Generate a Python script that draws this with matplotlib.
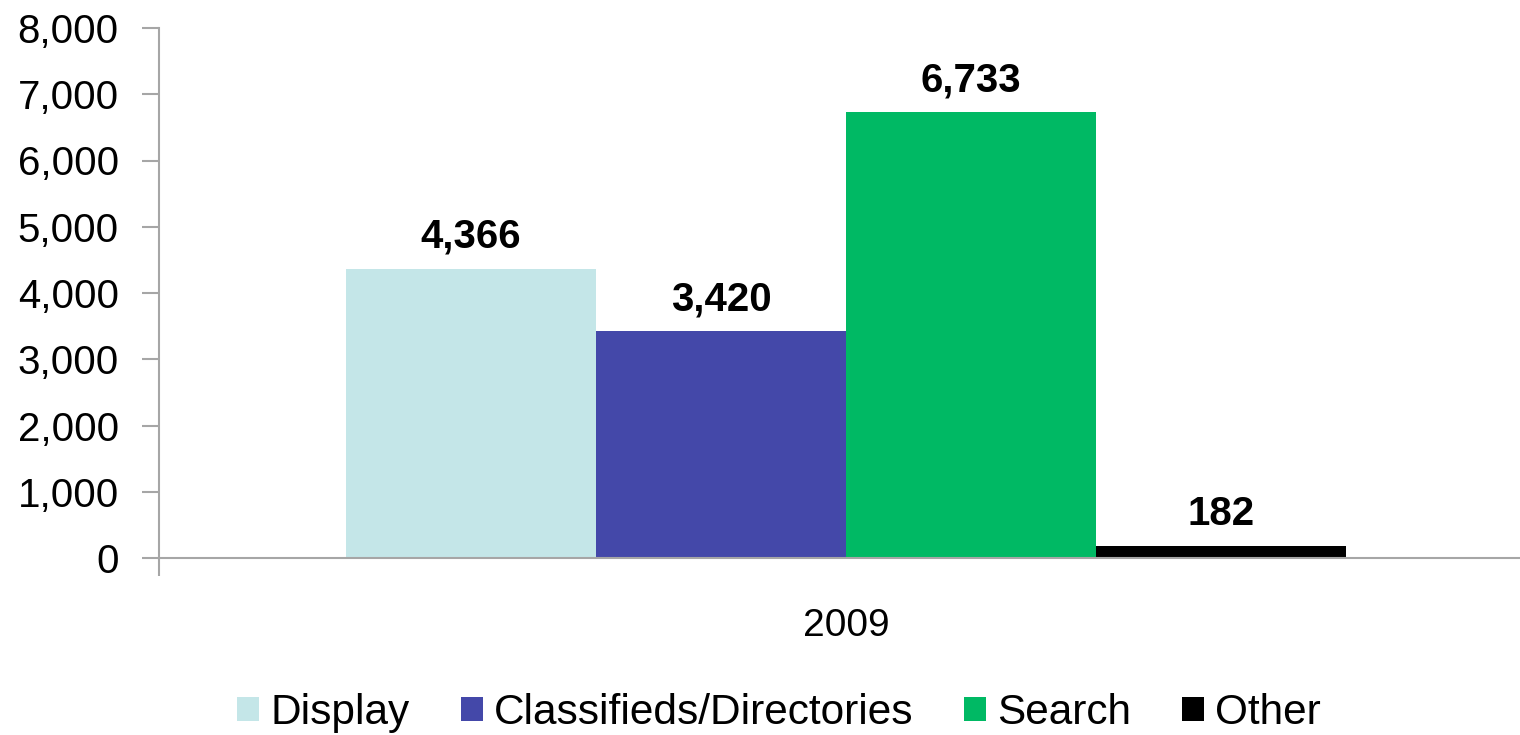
import matplotlib
matplotlib.use("Agg")
import matplotlib.pyplot as plt
import numpy as np

categories = ["2009"]
series = ["Display", "Classifieds/Directories", "Search", "Other"]
values = [4366, 3420, 6733, 182]
colors = ["#C4E6E8", "#4448A9", "#00B964", "#000000"]

plt.rcParams['font.family'] = ['Liberation Sans', 'DejaVu Sans']

fig = plt.figure(figsize=(15.2, 7.35), dpi=100)
ax = fig.add_axes([159 / 1520, 177 / 735, 1374 / 1520, 530 / 735])

width = 0.25
half = 1374 / 1000 / 2
offsets = (np.arange(len(series)) - (len(series) - 1) / 2) * width
for off, name, val, col in zip(offsets, series, values, colors):
    ax.bar(off, val, width, color=col, label=name)
    ax.annotate(f"{val:,}", (off, val), xytext=(0, 15), textcoords="offset points",
                ha="center", va="baseline", fontsize=29, fontweight="bold")

ax.set_xlim(-half, half)
ax.set_ylim(0, 8000)
ax.set_yticks(np.arange(0, 8001, 1000))
ax.set_yticklabels([f"{v:,}" for v in range(0, 8001, 1000)])
ax.set_xticks([0])
ax.set_xticklabels(categories)
ax.set_xticks([-half, half], minor=True)
ax.tick_params(axis="x", which="major", length=0, labelsize=28, pad=36)
ax.tick_params(axis="x", which="minor", length=13, color="#A6A6A6", width=1.5)
ax.tick_params(axis="y", length=12, color="#A6A6A6", width=1.5, labelsize=29, pad=17)

for s in ["top", "right"]:
    ax.spines[s].set_visible(False)
for s in ["left", "bottom"]:
    ax.spines[s].set_color("#A6A6A6")
    ax.spines[s].set_linewidth(1.5)

fig.legend(loc="center", bbox_to_anchor=(779 / 1520, 1 - 713 / 735), ncol=4,
           frameon=False, fontsize=30.5, handlelength=0.52, handleheight=0.52,
           handletextpad=0.26, columnspacing=1.2, borderpad=0)

fig.savefig("out.png", dpi=100)
